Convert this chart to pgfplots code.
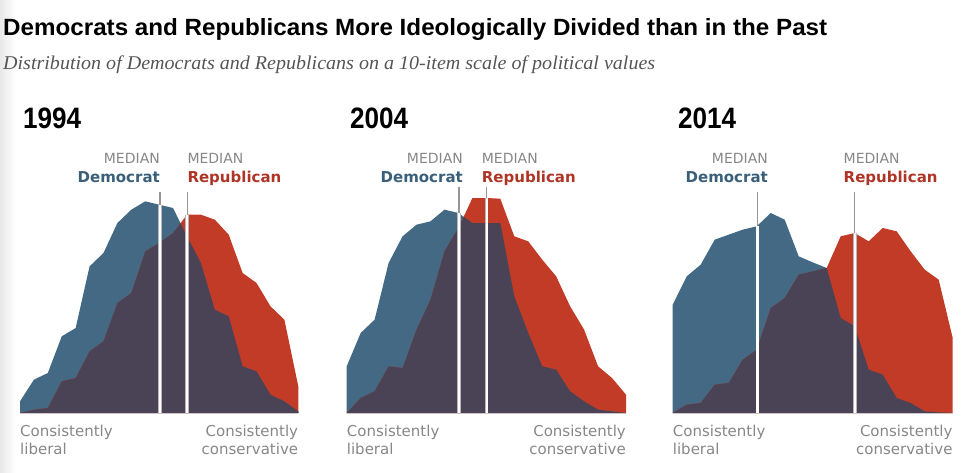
\documentclass[border=0pt]{standalone}
\usepackage{pgfplots}
\usepackage{pgfplotstable}
\pgfplotsset{compat=1.18}
\usepackage{fontspec}
\setmainfont{DejaVu Sans}
\newfontfamily\lib{Liberation Sans}
\newfontfamily\libserif{Liberation Serif}
\definecolor{dem}{RGB}{67,105,133}
\definecolor{rep}{RGB}{193,59,39}
\definecolor{both}{RGB}{74,67,85}
\definecolor{demtxt}{RGB}{58,95,122}
\definecolor{reptxt}{RGB}{174,52,38}
\definecolor{lbl}{RGB}{135,135,135}
\definecolor{medline}{RGB}{150,150,150}
\definecolor{subt}{RGB}{85,85,85}

\pgfplotstableread{
x dem rep both
0 35 0 0
1 100 10 10
2 120 15 15
3 230 95 95
4 255 105 105
5 440 185 185
6 480 215 215
7 570 330 330
8 610 360 360
9 635 485 485
10 625 510 510
11 615 540 540
11.536 569.4 569.4 569.4
12 530 595 530
13 450 595 450
14 310 580 310
15 290 535 290
16 140 420 140
17 125 390 125
18 55 320 55
19 35 280 35
20 5 80 5
}\tabA

\pgfplotstableread{
x dem rep both
0 140 0 0
1 240 45 45
2 280 65 65
3 450 140 140
4 530 135 135
5 565 250 250
6 575 340 340
7 610 485 485
8 600 555 555
8.375 588.75 588.75 588.75
9 570 645 570
10 570 645 570
11 570 643 570
12 350 530 350
13 240 515 240
14 140 460 140
15 130 410 130
16 65 320 65
17 35 250 35
18 10 140 10
19 5 105 5
20 0 55 0
}\tabB

\pgfplotstableread{
x dem rep both
0 325 0 0
1 410 25 25
2 445 30 30
3 520 85 85
4 535 90 90
5 550 160 160
6 560 190 190
7 600 315 315
8 580 345 345
9 470 415 415
10 452 425 425
11 435 435 435
12 285 530 285
13 260 540 260
14 130 515 130
15 115 555 115
16 45 545 45
17 30 485 30
18 5 430 5
19 2 400 2
20 0 225 0
}\tabC

\pgfplotsset{panel/.style={scale only axis, hide axis, height=221pt,
  xmin=0, xmax=20, ymin=0, ymax=663, clip=false, anchor=south west}}

\newcommand{\panel}[9]{%
  \begin{axis}[panel, at={(#2pt,-413pt)}, width=#3pt]
    \addplot[draw=none, fill=dem] table[x=x,y=dem]{#1} \closedcycle;
    \addplot[draw=none, fill=rep] table[x=x,y=rep]{#1} \closedcycle;
    \addplot[draw=none, fill=both] table[x=x,y=both]{#1} \closedcycle;
    \addplot[medline, line width=1.3pt] coordinates {(#4,0) (#4,#8)};
    \addplot[medline, line width=1.3pt] coordinates {(#6,0) (#6,#9)};
    \addplot[medline!70, line width=3.6pt] coordinates {(#4,0) (#4,#5)};
    \addplot[medline!70, line width=3.6pt] coordinates {(#6,0) (#6,#7)};
    \addplot[white, line width=2.2pt] coordinates {(#4,0) (#4,#5)};
    \addplot[white, line width=2.2pt] coordinates {(#6,0) (#6,#7)};
  \end{axis}}

\newcommand{\yearlbl}[2]{\node[anchor=base west, inner sep=0pt] at (#1,-128)
  {\resizebox{58pt}{\height}{\fontsize{29.5}{30}\selectfont\lib\bfseries #2}};}
\newcommand{\medlbl}[2]{%
  \node[anchor=base east, inner sep=0pt, text=lbl, font=\fontsize{14}{16}\selectfont] at (#1,-163) {MEDIAN};
  \node[anchor=base east, inner sep=0pt, text=demtxt, font=\fontsize{15}{16}\selectfont\bfseries] at (#1,-182) {Democrat};
  \node[anchor=base west, inner sep=0pt, text=lbl, font=\fontsize{14}{16}\selectfont] at (#2,-163) {MEDIAN};
  \node[anchor=base west, inner sep=0pt, text=reptxt, font=\fontsize{15}{16}\selectfont\bfseries] at (#2,-182) {Republican};}
\newcommand{\scalelbl}[2]{%
  \node[anchor=base west, inner sep=0pt, text=lbl, font=\fontsize{15}{18}\selectfont] at (#1,-436) {Consistently};
  \node[anchor=base west, inner sep=0pt, text=lbl, font=\fontsize{15}{18}\selectfont] at (#1,-454) {liberal};
  \node[anchor=base east, inner sep=0pt, text=lbl, font=\fontsize{15}{18}\selectfont] at (#2,-436) {Consistently};
  \node[anchor=base east, inner sep=0pt, text=lbl, font=\fontsize{15}{18}\selectfont] at (#2,-454) {conservative};}

\begin{document}
\begin{tikzpicture}[x=1pt,y=1pt]
  \path[use as bounding box] (0,0) rectangle (975,-472);
  \shade[left color=black!9, right color=white] (0,0) rectangle (16,-472);
  \node[anchor=base west, inner sep=0pt] at (3,-35)
    {\resizebox{824pt}{\height}{\fontsize{23.5}{24}\selectfont\lib\bfseries Democrats and Republicans More Ideologically Divided than in the Past}};
  \node[anchor=base west, inner sep=0pt, text=subt] at (3,-69)
    {\resizebox{652pt}{\height}{\fontsize{19.5}{22}\selectfont\libserif\itshape Distribution of Democrats and Republicans on a 10-item scale of political values}};

  \panel{\tabA}{20}{278.3}{10.06}{625}{12.02}{595}{663}{663}
  \panel{\tabB}{346.7}{279.3}{8.04}{600}{10.02}{645}{678}{678}
  \panel{\tabC}{672.7}{280}{6.05}{562}{13.0}{540}{663}{663}

  \yearlbl{23}{1994}
  \yearlbl{350}{2004}
  \yearlbl{678}{2014}

  \medlbl{160}{187.3}
  \medlbl{463}{481.7}
  \medlbl{768}{843.5}

  \scalelbl{20}{298.3}
  \scalelbl{346.7}{626}
  \scalelbl{672.7}{952.7}
\end{tikzpicture}
\end{document}
